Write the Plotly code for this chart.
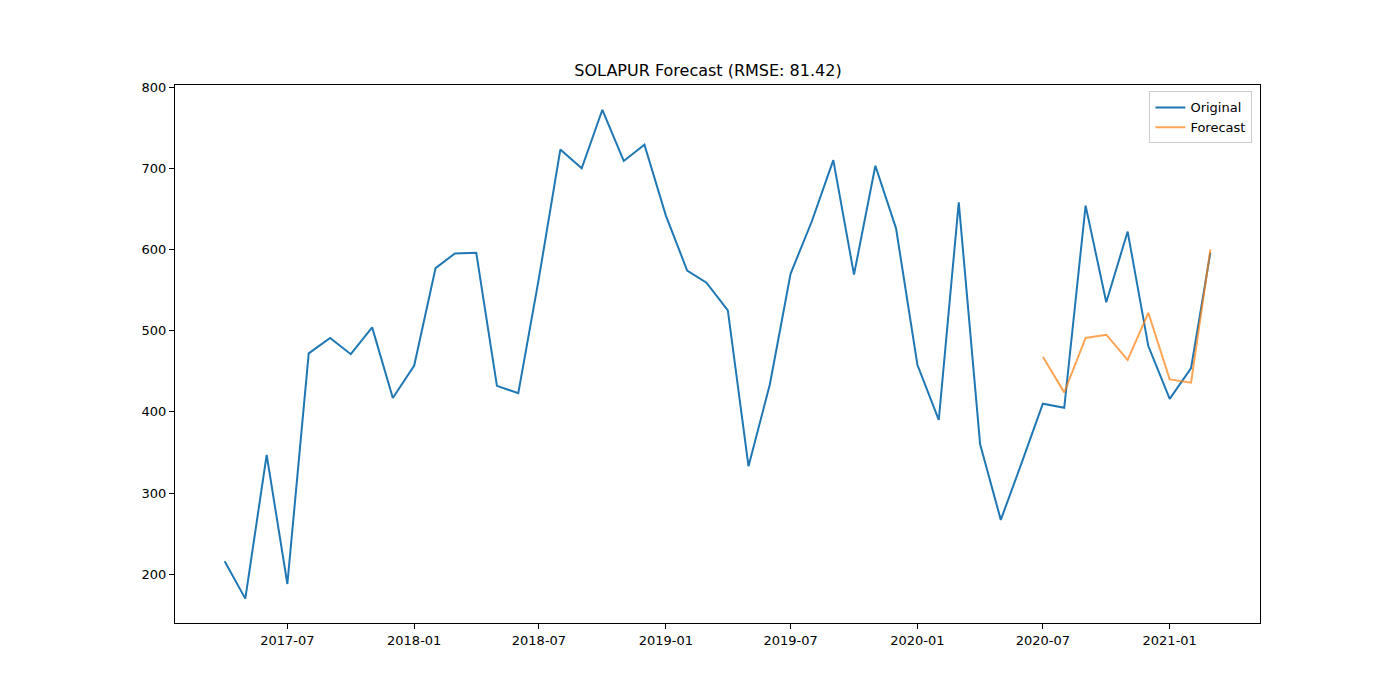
import pandas as pd
import plotly.graph_objects as go

# monthly values
dates = pd.date_range("2017-04-01", "2021-03-01", freq="MS")
original = [
    216, 170, 347, 188, 472, 491, 471, 504, 417, 457, 577, 595,
    596, 432, 423, 565, 723, 700, 772, 709, 729, 642, 574, 559,
    525, 333, 434, 570, 635, 710, 569, 703, 626, 458, 390, 658,
    360, 267, 339, 410, 405, 654, 535, 622, 481, 416, 454, 596,
]

forecast_dates = pd.date_range("2020-07-01", "2021-03-01", freq="MS")
forecast = [468, 424, 491, 495, 464, 522, 440, 436, 600]

rmse = 81.42
title = f"SOLAPUR Forecast (RMSE: {rmse:.2f})"

fig = go.Figure()
fig.add_trace(go.Scatter(x=dates, y=original, mode="lines", name="Original",
                         line=dict(color="#1f77b4", width=2)))
fig.add_trace(go.Scatter(x=forecast_dates, y=forecast, mode="lines", name="Forecast",
                         line=dict(color="#ff7f0e", width=2), opacity=0.7))

axis_style = dict(showline=True, linecolor="black", linewidth=1, mirror=True,
                  ticks="outside", ticklen=5, tickcolor="black", showgrid=False,
                  zeroline=False, tickfont=dict(size=13, color="black"))

fig.update_xaxes(range=["2017-01-19", "2021-05-12"], tickformat="%Y-%m",
                 dtick="M6", tick0="2017-07-01", **axis_style)
fig.update_yaxes(range=[140, 802.5], dtick=100, **axis_style)

fig.update_layout(
    width=1400, height=700,
    margin=dict(l=167, r=148, t=77, b=85),
    paper_bgcolor="white", plot_bgcolor="white",
    font=dict(family="DejaVu Sans", color="black"),
    title=dict(text=title, x=0.5, xanchor="center", y=0.911, yanchor="middle",
               font=dict(size=16)),
    legend=dict(x=0.993, y=0.988, xanchor="right", yanchor="top",
                bordercolor="#cccccc", borderwidth=1, bgcolor="white",
                font=dict(size=13), tracegroupgap=2),
    showlegend=True,
)

fig.write_html("out.html")
